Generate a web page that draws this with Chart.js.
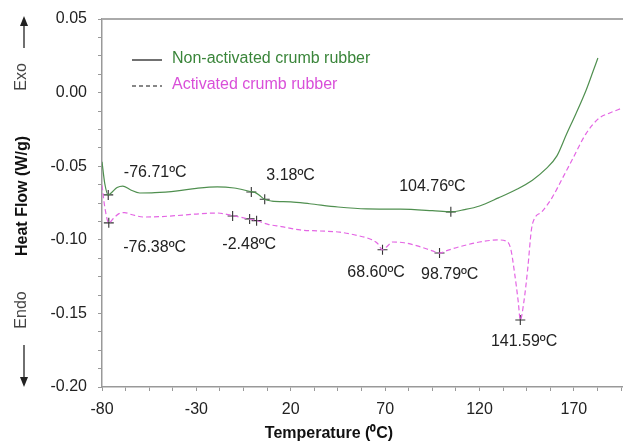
<!DOCTYPE html>
<html lang="en">
<head>
<meta charset="UTF-8">
<title>DSC crumb rubber</title>
<script src="https://cdn.jsdelivr.net/npm/chart.js"></script>
<style>
    *{margin:0;padding:0;box-sizing:border-box;}
    body{background:#fff;width:623px;height:444px;overflow:hidden;}
    #wrap{position:relative;width:623px;height:444px;}
</style>
</head>
<body>
<div id="wrap"><canvas id="dsc" width="623" height="444"></canvas></div>
<script>
// Non-activated crumb rubber (solid green)
const tempNonAct=[-80,-78.5,-76.7,-75,-72,-69,-65,-60,-52,-40,-30,-19,-10,-2,1,3.2,6,10,20,30,45,60,78,95,104.8,112,120,130,140,148,155,161,166,171,176.5,180,182.7];
const heatNonAct=[-0.047,-0.062,-0.0695,-0.068,-0.0645,-0.0635,-0.066,-0.0682,-0.068,-0.0667,-0.065,-0.064,-0.0648,-0.067,-0.0678,-0.0695,-0.0725,-0.0737,-0.0742,-0.0755,-0.0777,-0.079,-0.0792,-0.0802,-0.081,-0.0795,-0.077,-0.0715,-0.0655,-0.0595,-0.052,-0.043,-0.0285,-0.0145,0.0018,0.014,0.0235];

// Activated crumb rubber (dashed magenta)
const tempAct=[-80,-78.5,-76.4,-74,-71,-68,-64,-58,-50,-40,-30,-19,-11,-2.5,2,8,15,25,35,46,55,62,66,68.6,71,74,80,88,95,98.8,103,110,120,130,134,136.5,138.5,140.5,141.6,143.5,145.5,147.5,149,153,158.6,164,169,176.6,183.4,188.7,195.6];
const heatAct=[-0.063,-0.078,-0.0885,-0.0855,-0.0822,-0.0815,-0.083,-0.0845,-0.0843,-0.0835,-0.0825,-0.0818,-0.0835,-0.0858,-0.087,-0.0895,-0.091,-0.0933,-0.094,-0.0948,-0.097,-0.0995,-0.1025,-0.1068,-0.1045,-0.1015,-0.102,-0.1045,-0.1075,-0.109,-0.1072,-0.1045,-0.1015,-0.1001,-0.1008,-0.106,-0.122,-0.142,-0.1545,-0.142,-0.12,-0.093,-0.0858,-0.081,-0.071,-0.058,-0.0458,-0.0275,-0.0173,-0.014,-0.0105];

// analysis cross marks
const markTemp=[-76.7,-0.9,6.2,104.8,-76.4,-10.8,-1.8,1.9,68.6,98.8,141.6];
const markHeat=[-0.0695,-0.0675,-0.0725,-0.081,-0.0885,-0.0838,-0.0858,-0.087,-0.1068,-0.109,-0.1545];

// peak labels and where they sit (text centre, data units)
const peakLabels=['-76.71ºC','3.18ºC','104.76ºC','-76.38ºC','-2.48ºC','68.60ºC','98.79ºC','141.59ºC'];
const peakLabelTemp=[-51.8,19.9,95,-52.1,-2,65.2,104.2,143.6];
const peakLabelHeat=[-0.0546,-0.0567,-0.0641,-0.1056,-0.1035,-0.1226,-0.1239,-0.1694];

const seriesNames=['Non-activated crumb rubber','Activated crumb rubber'];
const xTickStart=-80, xMajor=50, xMinor=12.5, xMax=196;
const yMin=-0.2, yMax=0.05, yMajor=0.05, yMinor=0.0125;

const FONT='"Liberation Sans", Arial, sans-serif';
const GREEN='#4f8f4f', GREEN_TXT='#3a853a';
const PINK='#e466e4', PINK_TXT='#d94fd9';

function pts(xs,ys){return xs.map((x,i)=>({x:x,y:ys[i]}));}

const extras={
    id:'extras',
    afterDraw(chart){
        const c=chart.ctx, a=chart.chartArea, xs=chart.scales.x, ys=chart.scales.y;
        c.save();
        // top frame line
        c.strokeStyle='#aaa';c.lineWidth=2;
        c.beginPath();c.moveTo(a.left,a.top);c.lineTo(a.right,a.top);c.stroke();

        // peak labels
        c.fillStyle='#222';c.font='16px '+FONT;c.textAlign='center';c.textBaseline='middle';
        peakLabels.forEach((t,i)=>{
            c.fillText(t,xs.getPixelForValue(peakLabelTemp[i]),ys.getPixelForValue(peakLabelHeat[i]));
        });

        // legend
        c.lineWidth=1.2;c.strokeStyle='#111';
        c.beginPath();c.moveTo(132,60);c.lineTo(162,60);c.stroke();
        c.setLineDash([4,3]);
        c.beginPath();c.moveTo(132,86);c.lineTo(162,86);c.stroke();
        c.setLineDash([]);
        c.textAlign='left';
        c.fillStyle=GREEN_TXT;c.fillText(seriesNames[0],172,59);
        c.fillStyle=PINK_TXT;c.fillText(seriesNames[1],172,85);

        // axis titles
        c.fillStyle='#111';c.font='bold 16px '+FONT;c.textAlign='center';
        c.fillText('Temperature (⁰C)',329,434);
        c.save();c.translate(23,196);c.rotate(-Math.PI/2);c.fillText('Heat Flow (W/g)',0,0);c.restore();

        // Exo / Endo with arrows
        c.fillStyle='#444';c.font='16px '+FONT;
        c.save();c.translate(22,77);c.rotate(-Math.PI/2);c.fillText('Exo',0,0);c.restore();
        c.save();c.translate(22,310);c.rotate(-Math.PI/2);c.fillText('Endo',0,0);c.restore();
        c.strokeStyle='#222';c.fillStyle='#222';c.lineWidth=1.3;
        c.beginPath();c.moveTo(24,48);c.lineTo(24,24);c.stroke();
        c.beginPath();c.moveTo(20,26);c.lineTo(28,26);c.lineTo(24,16);c.closePath();c.fill();
        c.beginPath();c.moveTo(24,345);c.lineTo(24,378);c.stroke();
        c.beginPath();c.moveTo(20,377);c.lineTo(28,377);c.lineTo(24,387);c.closePath();c.fill();
        c.restore();
    }
};

function buildTicks(start,end,step){
    const out=[];
    for(let v=start;v<=end+1e-9;v+=step){out.push({value:Math.round(v*10000)/10000});}
    return out;
}

new Chart(document.getElementById('dsc'),{
    type:'line',
    data:{
        datasets:[
            {label:seriesNames[0],data:pts(tempNonAct,heatNonAct),borderColor:GREEN,borderWidth:1.2,pointRadius:0,cubicInterpolationMode:'monotone',fill:false},
            {label:seriesNames[1],data:pts(tempAct,heatAct),borderColor:PINK,borderWidth:1.2,borderDash:[5,3],pointRadius:0,cubicInterpolationMode:'monotone',fill:false},
            {label:'marks',data:pts(markTemp,markHeat),showLine:false,pointStyle:'cross',pointRadius:5,pointBorderColor:'#333',pointBorderWidth:1.1}
        ]
    },
    options:{
        responsive:false,
        animation:false,
        layout:{autoPadding:false,padding:{top:19,right:0,left:0,bottom:0}},
        plugins:{legend:{display:false},tooltip:{enabled:false}},
        scales:{
            x:{
                type:'linear',min:xTickStart,max:xMax,
                afterBuildTicks(s){s.ticks=buildTicks(xTickStart,xMax,xMinor);},
                afterFit(s){s.height=57;s.paddingRight=0;s.paddingLeft=0;},
                border:{color:'#999',width:1.5},
                grid:{drawOnChartArea:false,drawTicks:true,tickLength:4,color:'#999'},
                ticks:{autoSkip:false,maxRotation:0,padding:9,color:'#222',font:{family:FONT,size:16},
                    callback(v){const k=(v-xTickStart)/xMajor;return Math.abs(k-Math.round(k))<1e-6?String(v):'';}}
            },
            y:{
                min:yMin,max:yMax,
                afterBuildTicks(s){s.ticks=buildTicks(yMin,yMax,yMinor);},
                afterFit(s){s.width=102;s.paddingTop=0;s.paddingBottom=0;},
                border:{color:'#999',width:1.5},
                grid:{drawOnChartArea:false,drawTicks:true,tickLength:4,color:'#999'},
                ticks:{autoSkip:false,padding:11,color:'#222',font:{family:FONT,size:16},
                    callback(v){const k=v/yMajor;return Math.abs(k-Math.round(k))<1e-6?(Math.abs(v)<1e-9?'0.00':v.toFixed(2)):'';}}
            }
        }
    },
    plugins:[extras]
});
</script>
</body>
</html>
